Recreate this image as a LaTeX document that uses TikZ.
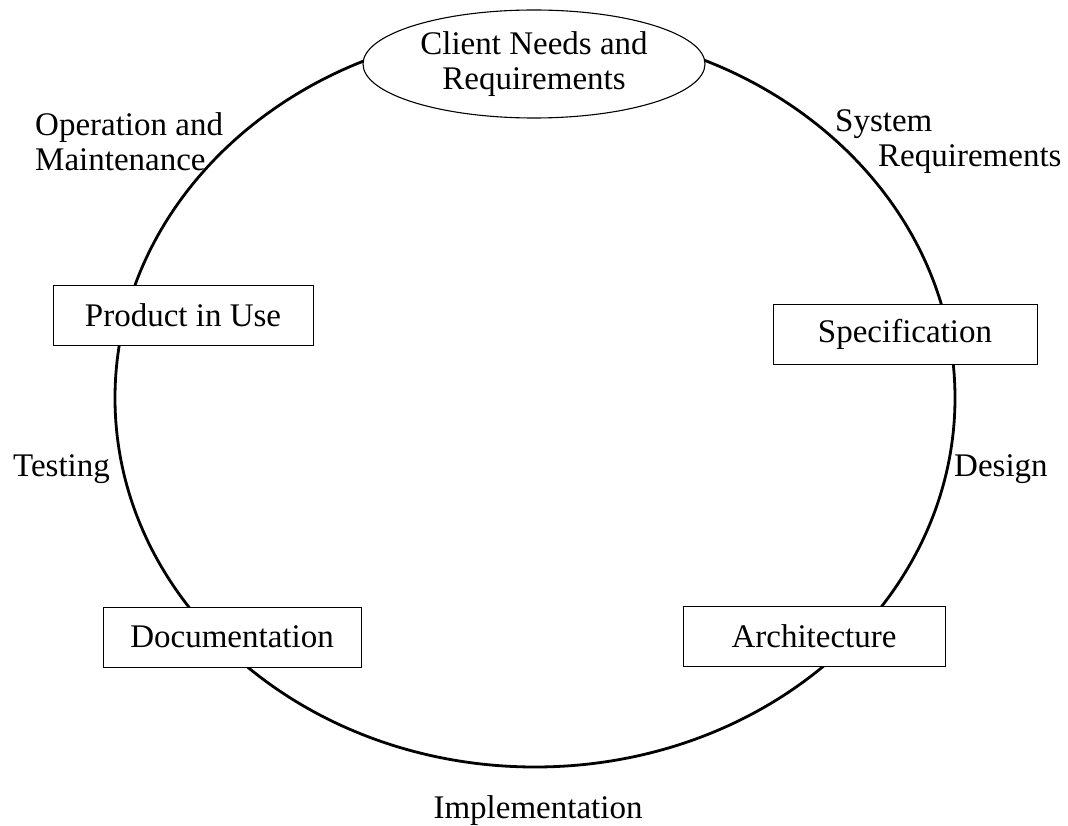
\documentclass[tikz,border=0pt]{standalone}
\usepackage{fontspec}
\setmainfont{Liberation Serif}
\usetikzlibrary{shapes.geometric}
\begin{document}
\begin{tikzpicture}[x=1pt,y=-1pt,
  every node/.style={font=\fontsize{33}{35}\selectfont, inner sep=0pt},
  stagebox/.style={draw, line width=0.9pt, fill=white, rectangle, minimum height=60pt},
  goalshape/.style={draw, line width=1.1pt, fill=white, ellipse, minimum width=342pt, minimum height=108pt, align=center},
  cycle/.style={line width=2.8pt},
  phase/.style={align=left}]
\useasboundingbox (0,0) rectangle (1068,826);
\draw[cycle] (535,398) ellipse [x radius=420pt, y radius=369pt];
\node[goalshape] (client) at (534,64) {Client Needs and\\Requirements};
\node[stagebox, minimum width=260pt] (product) at (183,315) {Product in Use};
\node[stagebox, minimum width=264pt] (spec) at (905,334) {Specification};
\node[stagebox, minimum width=258pt] (doc) at (232,637) {Documentation};
\node[stagebox, minimum width=262pt] (arch) at (814,636.5) {Architecture};
\node[phase, anchor=west] (oper) at (35,142) {Operation and\\Maintenance};
\node[phase, anchor=west] (sysreq) at (835,142) {System\\\hspace*{43pt}Requirements};
\node[anchor=base west] (test) at (13,476) {Testing};
\node[anchor=base west] (design) at (954,476) {Design};
\node[anchor=base] (impl) at (538,818) {Implementation};
\end{tikzpicture}
\end{document}
